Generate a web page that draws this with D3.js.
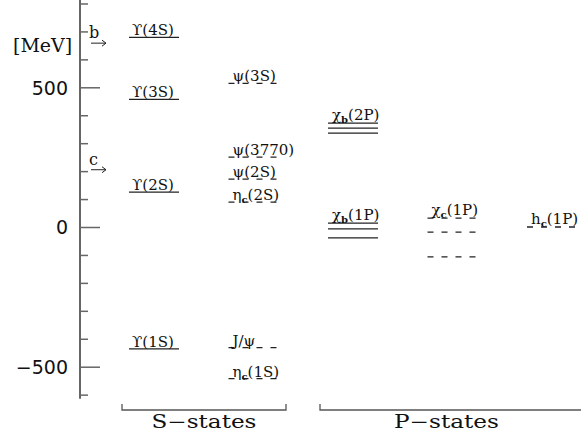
<!DOCTYPE html>
<html>
<head>
<meta charset="utf-8"/>
<title>Quarkonium levels</title>
<script src="https://d3js.org/d3.v7.min.js"></script>
<style>
  body { margin: 0; background: #fff; }
  .lbl { font-family: "DejaVu Serif", serif; font-size: 15px; fill: #111; }
  .tick text { font-family: "DejaVu Sans", sans-serif; font-size: 19px; fill: #111; }
  .tick line { stroke: #666; stroke-width: 1.5; }
  .level { stroke: #222; stroke-width: 1.3; fill: none; }
  .level.charm { stroke-dasharray: 6,8; }
</style>
</head>
<body>
<script>
// energies in MeV, relative to the spin-averaged 1P level
var bbS = [
  { name: "ϒ(1S)", e: -436 },
  { name: "ϒ(2S)", e: 125 },
  { name: "ϒ(3S)", e: 457 },
  { name: "ϒ(4S)", e: 679 }
];
var ccS = [
  { name: "J/ψ", e: -432 },
  { name: "ηc(1S)", e: -543 },
  { name: "ηc(2S)", e: 89 },
  { name: "ψ(2S)", e: 171 },
  { name: "ψ(3770)", e: 250 },
  { name: "ψ(3S)", e: 514 }
];
var chib2P = [372, 354, 336];
var chib1P = [14, -7, -39];
var chic1P = [32, -18, -107];
var hc1P = [0];

// columns: bottomonium S, charmonium S, chi_b, chi_c, h_c
var columns = ["bS", "cS", "bP", "cP", "hP"];
var thresholds = [{ q: "b", e: 658 }, { q: "c", e: 205 }];
var majorTicks = [-500, 0, 500];
var minorTicks = [-600, -400, -300, -200, -100, 100, 200, 300, 400, 600, 700, 800];

var w = 581, h = 438;
var svg = d3.select("body").append("svg").attr("width", w).attr("height", h);

var y = d3.scaleLinear().domain([0, 500]).range([227, 87.3]);
var x = d3.scalePoint().domain(columns).range([129, 527]);
var lw = 50;

// axis
svg.append("line")
  .attr("x1", 80).attr("x2", 80)
  .attr("y1", 0).attr("y2", y(-615))
  .attr("stroke", "#666").attr("stroke-width", 2);

var gMinor = svg.append("g").attr("transform", "translate(80,0)")
  .call(d3.axisLeft(y).tickValues(minorTicks).tickSize(-8).tickFormat(""));
gMinor.select(".domain").remove();

var gMajor = svg.append("g").attr("transform", "translate(80,0)")
  .call(d3.axisLeft(y).tickValues(majorTicks).tickSize(-20).tickPadding(12));
gMajor.select(".domain").remove();
gMajor.selectAll(".tick text").attr("dy", "0.36em");

svg.append("text").attr("class", "lbl")
  .attr("x", 13).attr("y", 52)
  .style("font-size", "19px")
  .text("[MeV]");

// thresholds
thresholds.forEach(function(t) {
  var ty = y(t.e);
  svg.append("text").attr("class", "lbl")
    .attr("x", 89).attr("y", ty - 5)
    .style("font-size", "16px")
    .text(t.q);
  svg.append("path")
    .attr("d", "M91," + ty + "H106M102," + (ty - 3) + "L106," + ty + "L102," + (ty + 3))
    .attr("stroke", "#222").attr("stroke-width", 1).attr("fill", "none");
});

function label(sel, name) {
  // split base symbol and subscript, e.g. "ηc(1S)"
  var m = name.match(/^([χη])([bc])(.*)$/) || name.match(/^(h)([c])(.*)$/);
  if (m) {
    sel.append("tspan").text(m[1]);
    sel.append("tspan").attr("dy", 3).style("font-size", "10px").style("font-weight", "bold").text(m[2]);
    sel.append("tspan").attr("dy", -3).text(m[3]);
  } else {
    sel.text(name);
  }
}

function levels(vals, col, charm) {
  svg.append("g").selectAll("line")
    .data(vals).enter().append("line")
    .attr("class", charm ? "level charm" : "level")
    .attr("x1", x(col)).attr("x2", x(col) + lw)
    .attr("y1", function(d) { return y(d); })
    .attr("y2", function(d) { return y(d); });
}

function named(list, col, charm) {
  levels(list.map(function(d) { return d.e; }), col, charm);
  list.forEach(function(d) {
    var t = svg.append("text").attr("class", "lbl")
      .attr("x", x(col) + (charm ? 4 : 3)).attr("y", y(d.e) - 2);
    label(t, d.name);
  });
}

named(bbS, "bS", false);
named(ccS, "cS", true);

levels(chib2P, "bP", false);
levels(chib1P, "bP", false);
levels(chic1P, "cP", true);
levels(hc1P, "hP", true);

[[chib2P, "bP", "χb(2P)"], [chib1P, "bP", "χb(1P)"], [chic1P, "cP", "χc(1P)"], [hc1P, "hP", "hc(1P)"]]
  .forEach(function(g) {
    var t = svg.append("text").attr("class", "lbl")
      .attr("x", x(g[1]) + 4).attr("y", y(d3.max(g[0])) - 3);
    label(t, g[2]);
  });

// brackets
var groups = [
  { name: "S−states", x0: 122, x1: 286 },
  { name: "P−states", x0: 320, x1: 573 }
];
groups.forEach(function(gr) {
  svg.append("path")
    .attr("d", "M" + gr.x0 + ",404V410H" + (gr.name[0] == "P" ? 585 : gr.x1) + (gr.name[0] == "P" ? "" : "V404"))
    .attr("stroke", "#555").attr("stroke-width", 1.3).attr("fill", "none");
  svg.append("text")
    .attr("x", (gr.x0 + gr.x1) / 2).attr("y", 428)
    .attr("text-anchor", "middle")
    .attr("textLength", 105)
    .attr("lengthAdjust", "spacingAndGlyphs")
    .style("font-family", "DejaVu Serif, serif").style("font-size", "18px").style("fill", "#111")
    .text(gr.name);
});
</script>
</body>
</html>
